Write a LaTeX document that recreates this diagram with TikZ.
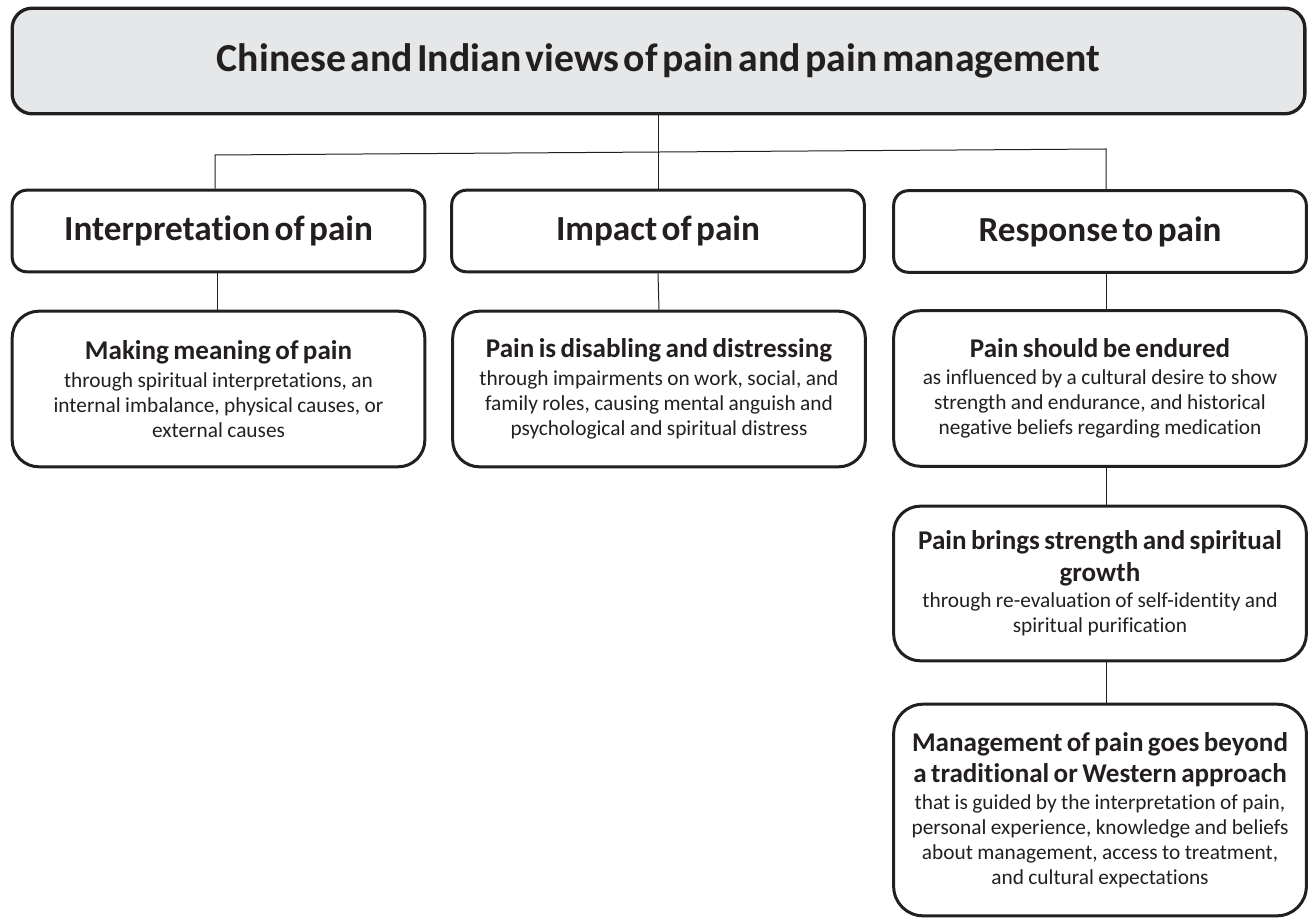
\documentclass[tikz,border=0pt]{standalone}
\usepackage{fontspec}
\setmainfont{Carlito}[RawFeature={-liga;-clig;-calt}]
\usetikzlibrary{calc}
\definecolor{ink}{HTML}{231F20}
\definecolor{titlefill}{HTML}{E6E7E8}
\newcommand{\headA}{\fontsize{29.8}{35}\selectfont\bfseries}
\newcommand{\headB}{\fontsize{26.4}{31}\selectfont\bfseries}
\newcommand{\headC}{\fontsize{20.3}{23.8}\selectfont\bfseries}
\newcommand{\bodyC}{\fontsize{16}{18.75}\selectfont}
\tikzset{
  boxbase/.style={draw=ink, text=ink, align=center, inner sep=0pt},
  titlebox/.style={boxbase, fill=titlefill, line width=2.5pt, rounded corners=15pt,
    minimum width=969.5pt, minimum height=79.2pt, text width=960pt},
  catbox/.style={boxbase, line width=2.25pt, rounded corners=11pt,
    minimum width=309.5pt, minimum height=61.2pt, text width=305pt},
  themebox/.style={boxbase, line width=2.25pt, rounded corners=20pt,
    minimum width=309.5pt, text width=305pt},
  conn/.style={draw=ink, line width=0.75pt}
}
\begin{document}
\begin{tikzpicture}[x=0.75pt,y=-0.75pt]
\useasboundingbox (0,0) rectangle (1309,919);
\node[titlebox] (title) at (658.5,61) {\headA Chinese and Indian views of pain and pain management};

\node[catbox] (interp) at (218.5,231) {\headB Interpretation of pain};
\node[catbox] (impact) at (658,231) {\headB Impact of pain};
\node[catbox] (resp) at (1100,231.5) {\headB Response to pain};

\node[themebox, minimum height=116.7pt] (meaning) at (218.5,389)
  {{\headC Making meaning of pain\par}\vskip2pt
   {\bodyC through spiritual interpretations, an\\ internal imbalance, physical causes, or\\ external causes\par}};
\node[themebox, minimum height=116.7pt] (disab) at (659,389)
  {{\headC Pain is disabling and distressing\par}\vskip2pt
   {\bodyC through impairments on work, social, and\\ family roles, causing mental anguish and\\ psychological and spiritual distress\par}};
\node[themebox, minimum height=116.7pt] (endure) at (1100,388.5)
  {{\headC Pain should be endured\par}\vskip2pt
   {\bodyC as influenced by a cultural desire to show\\ strength and endurance, and historical\\ negative beliefs regarding medication\par}};
\node[themebox, minimum height=116pt] (brings) at (1100,583.5)
  {{\headC Pain brings strength and spiritual\\ growth\par}\vskip1pt
   {\bodyC through re-evaluation of self-identity and\\ spiritual purification\par}};
\node[themebox, rounded corners=22pt, minimum height=158.7pt] (mgmt) at (1100,810)
  {{\headC Management of pain goes beyond\\ a traditional or Western approach\par}\vskip1pt
   {\bodyC that is guided by the interpretation of pain,\\ personal experience, knowledge and beliefs\\ about management, access to treatment,\\ and cultural expectations\par}};

\coordinate (hl) at (215,155);
\coordinate (hr) at (1106,149);
\coordinate (rx) at (1106,0);
\coordinate (lx) at (217,0);

\draw[conn] (interp.north -| hl) -- (hl) -- (hr) -- (resp.north -| hr);
\draw[conn] (title.south -| impact.north) -- (impact.north);
\draw[conn] (interp.south -| lx) -- (meaning.north -| lx);
\draw[conn] (impact.south) -- (disab.north);
\draw[conn] (resp.south -| rx) -- (endure.north -| rx);
\draw[conn] (endure.south -| rx) -- (brings.north -| rx);
\draw[conn] (brings.south -| rx) -- (mgmt.north -| rx);
\end{tikzpicture}
\end{document}
